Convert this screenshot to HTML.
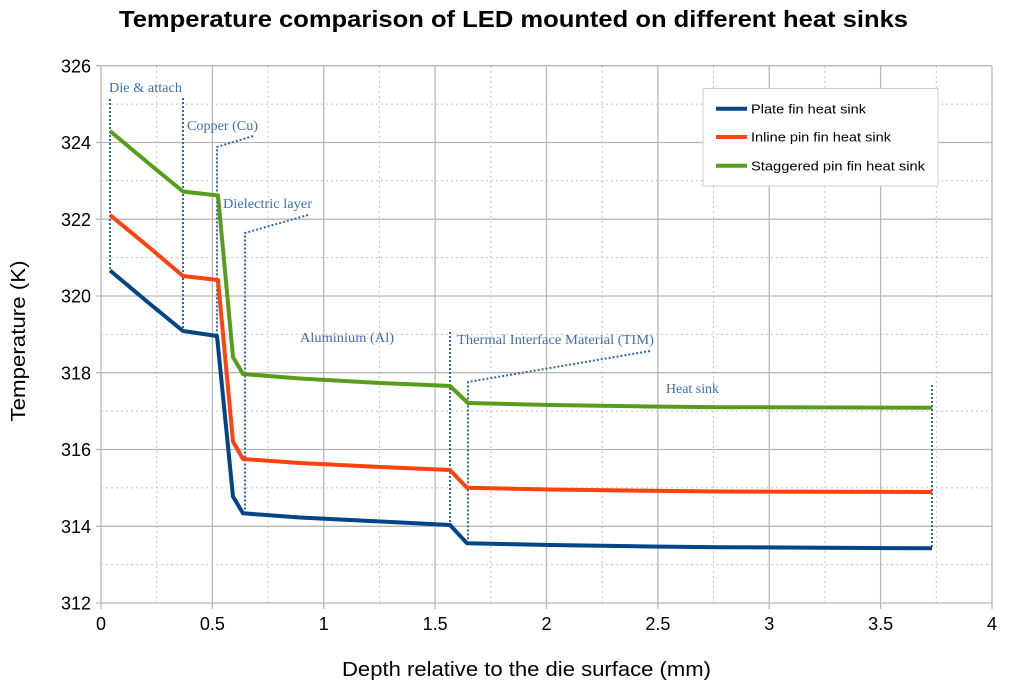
<!DOCTYPE html>
<html><head><meta charset="utf-8"><style>
html,body{margin:0;padding:0;background:#fff;}
svg{display:block;}
</style></head><body>
<svg width="1009" height="684" viewBox="0 0 1009 684" xmlns="http://www.w3.org/2000/svg">
<rect width="1009" height="684" fill="#fff"/>
<!-- minor dotted grid -->
<g stroke="#c3c3c3" stroke-width="1" stroke-dasharray="2,3" fill="none">
<path d="M156.7,66V603M268.1,66V603M379.4,66V603M490.8,66V603M602.2,66V603M713.6,66V603M824.9,66V603M936.3,66V603"/>
<path d="M101,104.1H992M101,180.8H992M101,257.6H992M101,334.4H992M101,411.1H992M101,487.9H992M101,564.6H992"/>
</g>
<!-- major grid -->
<g stroke="#b8b8b8" stroke-width="1.3" fill="none">
<path d="M212.4,66V609M323.75,66V609M435.1,66V609M546.5,66V609M657.9,66V609M769.25,66V609M880.6,66V609M992,66V609M101,66V609"/>
<path d="M96,65.7H992M96,142.5H992M96,219.2H992M96,296H992M96,372.7H992M96,449.5H992M96,526.3H992M96,603H992"/>
</g>
<!-- annotation dotted lines -->
<g stroke="#3465a4" stroke-width="2" stroke-dasharray="2,2" fill="none">
<path d="M110,99V270"/>
<path d="M183,98V331"/>
<path d="M253,136L217,147V336"/>
<path d="M308,215L245,233V512"/>
<path d="M450,332V525"/>
<path d="M650,351L468,382V543"/>
<path d="M932,385V548"/>
</g>
<!-- series -->
<g fill="none" stroke-width="4" stroke-linejoin="round" stroke-linecap="butt">
<polyline stroke="#579d1c" points="110,131 150,164.5 183,191.5 218,195.5 233,357 243,374 300,378.5 380,383 450,386 468,403 550,405 650,406.5 720,407.2 932,407.7"/>
<polyline stroke="#ff420e" points="110,215 150,248 183,276 218,280 233,441.5 243,459 300,463 380,467 450,470 467,487.7 550,489.5 650,490.8 720,491.5 932,492"/>
<polyline stroke="#004586" points="110,270.5 150,304 183,331 217,336 233,496.5 243,513.3 300,517.5 380,521.5 450,525 467,543.3 550,545 650,546.5 720,547.2 932,548.3"/>
</g>
<!-- annotation labels -->
<g font-family="'Liberation Serif', serif" font-size="13.5" fill="#3f6fb5">
<text x="109" y="92" textLength="73" lengthAdjust="spacingAndGlyphs">Die &amp; attach</text>
<text x="187" y="130" textLength="71" lengthAdjust="spacingAndGlyphs">Copper (Cu)</text>
<text x="223" y="208" textLength="89" lengthAdjust="spacingAndGlyphs">Dielectric layer</text>
<text x="300" y="342" textLength="94" lengthAdjust="spacingAndGlyphs">Aluminium (Al)</text>
<text x="457" y="344" textLength="197" lengthAdjust="spacingAndGlyphs">Thermal Interface Material (TIM)</text>
<text x="666" y="393" textLength="53" lengthAdjust="spacingAndGlyphs">Heat sink</text>
</g>
<!-- legend -->
<rect x="703" y="88.5" width="235" height="97.5" fill="#fff" stroke="#cfcfcf" stroke-width="1"/>
<g stroke-width="4">
<line x1="716" y1="108.7" x2="747" y2="108.7" stroke="#004586"/>
<line x1="716" y1="137" x2="747" y2="137" stroke="#ff420e"/>
<line x1="716" y1="165.7" x2="747" y2="165.7" stroke="#579d1c"/>
</g>
<g font-family="'Liberation Sans', sans-serif" font-size="13" fill="#000">
<text x="751" y="113.3" textLength="115" lengthAdjust="spacingAndGlyphs">Plate fin heat sink</text>
<text x="751" y="141.6" textLength="140" lengthAdjust="spacingAndGlyphs">Inline pin fin heat sink</text>
<text x="751" y="170.3" textLength="174" lengthAdjust="spacingAndGlyphs">Staggered pin fin heat sink</text>
</g>
<!-- y tick labels -->
<g font-family="'Liberation Sans', sans-serif" font-size="18" fill="#000" text-anchor="end">
<text x="91" y="72.3">326</text>
<text x="91" y="149.1">324</text>
<text x="91" y="225.8">322</text>
<text x="91" y="302.6">320</text>
<text x="91" y="379.3">318</text>
<text x="91" y="456.1">316</text>
<text x="91" y="532.9">314</text>
<text x="91" y="609.6">312</text>
</g>
<!-- x tick labels -->
<g font-family="'Liberation Sans', sans-serif" font-size="18" fill="#000" text-anchor="middle">
<text x="101" y="630">0</text>
<text x="212.4" y="630">0.5</text>
<text x="323.75" y="630">1</text>
<text x="435.1" y="630">1.5</text>
<text x="546.5" y="630">2</text>
<text x="657.9" y="630">2.5</text>
<text x="769.25" y="630">3</text>
<text x="880.6" y="630">3.5</text>
<text x="992" y="630">4</text>
</g>
<!-- titles -->
<text x="119" y="27" font-family="'Liberation Sans', sans-serif" font-size="23" font-weight="bold" fill="#000" textLength="789" lengthAdjust="spacingAndGlyphs">Temperature comparison of LED mounted on different heat sinks</text>
<text x="342" y="676" font-family="'Liberation Sans', sans-serif" font-size="20.5" fill="#000" textLength="369" lengthAdjust="spacingAndGlyphs">Depth relative to the die surface (mm)</text>
<text transform="translate(25,421.5) rotate(-90)" font-family="'Liberation Sans', sans-serif" font-size="20.5" fill="#000" textLength="161" lengthAdjust="spacingAndGlyphs">Temperature (K)</text>
</svg>
</body></html>
